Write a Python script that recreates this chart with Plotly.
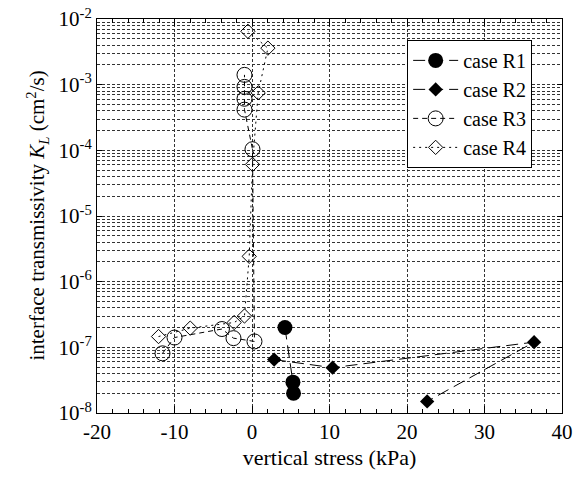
import plotly.graph_objects as go

# data
r1_x = [4.25, 5.28, 5.36]
r1_y = [2.0e-7, 2.95e-8, 2.0e-8]

r2_x = [2.86, 10.4, 36.4, 22.6]
r2_y = [6.5e-8, 4.9e-8, 1.2e-7, 1.5e-8]

r3_x = [-11.55, -10.0, -3.88, -2.39, 0.32, 0.06, -0.97, -0.97, -0.97, -0.97]
r3_y = [8.1e-8, 1.41e-7, 1.9e-7, 1.38e-7, 1.23e-7, 1.04e-4, 4.17e-4, 6.1e-4, 9.25e-4, 1.41e-3]

r4_x = [-12.06, -7.97, -2.3, -0.97, -0.36, 0.06, 0.8, 2.05, -0.53]
r4_y = [1.46e-7, 1.96e-7, 2.39e-7, 3.0e-7, 2.43e-6, 6.1e-5, 7.5e-4, 3.6e-3, 6.5e-3]

y_tickvals = [1e-8, 1e-7, 1e-6, 1e-5, 1e-4, 1e-3, 1e-2]
y_ticktext = ["10<sup>-8</sup>", "10<sup>-7</sup>", "10<sup>-6</sup>", "10<sup>-5</sup>",
              "10<sup>-4</sup>", "10<sup>-3</sup>", "10<sup>-2</sup>"]
x_tickvals = [-20, -10, 0, 10, 20, 30, 40]
x_ticktext = ["-20", "-10", "0", "10", "20", "30", "40"]

minor_vals = [m * 10.0 ** e for e in range(-8, -2) for m in range(2, 10)]

FONT = "Liberation Serif, Times New Roman, serif"

fig = go.Figure()
fig.add_trace(go.Scatter(x=r1_x, y=r1_y, name="case R1", mode="lines+markers",
                         line=dict(color="black", width=1, dash="12px,6px"),
                         marker=dict(symbol="circle", size=15, color="black")))
fig.add_trace(go.Scatter(x=r2_x, y=r2_y, name="case R2", mode="lines+markers",
                         line=dict(color="black", width=1, dash="12px,6px"),
                         marker=dict(symbol="diamond", size=11, color="black")))
fig.add_trace(go.Scatter(x=r3_x, y=r3_y, name="case R3", mode="lines+markers",
                         line=dict(color="black", width=1, dash="5px,4px"),
                         marker=dict(symbol="circle-open", size=15, color="black",
                                     line=dict(width=1, color="black"))))
fig.add_trace(go.Scatter(x=r4_x, y=r4_y, name="case R4", mode="lines+markers",
                         line=dict(color="black", width=1, dash="2px,4px"),
                         marker=dict(symbol="diamond-open", size=11, color="black",
                                     line=dict(width=1, color="black"))))

fig.update_layout(
    width=583, height=479,
    margin=dict(l=97, r=21, t=19, b=66, autoexpand=False),
    paper_bgcolor="white", plot_bgcolor="white",
    font=dict(family=FONT, size=20, color="black"),
    showlegend=True,
    legend=dict(x=0.667, y=0.947, xanchor="left", yanchor="top",
                bgcolor="white", bordercolor="black", borderwidth=1,
                font=dict(family=FONT, size=20), tracegroupgap=0, itemwidth=45),
    annotations=[dict(
        text="interface transmissivity <i>K</i><sub><i>L</i></sub> (cm<sup>2</sup>/s)",
        xref="paper", yref="paper", x=-0.13, y=0.5, xanchor="center", yanchor="middle",
        textangle=-90, showarrow=False, font=dict(family=FONT, size=21, color="black"))],
)
fig.update_xaxes(
    automargin=False,
    range=[-20, 40], tickmode="array", tickvals=x_tickvals, ticktext=x_ticktext,
    ticks="inside", ticklen=7, tickcolor="black", tickwidth=1,
    showline=True, linecolor="black", linewidth=1, mirror="allticks",
    showgrid=True, gridcolor="#333", gridwidth=1, griddash="3px,2px",
    zeroline=False,
    minor=dict(tickmode="array", tickvals=[v for v in range(-18, 40, 2) if v % 10 != 0],
               ticks="inside", ticklen=4, tickcolor="black", showgrid=False),
    title=dict(text="vertical stress (kPa)", font=dict(family=FONT, size=22), standoff=6),
    tickfont=dict(family=FONT, size=21),
)
fig.update_yaxes(
    automargin=False,
    type="log", range=[-8, -2], tickmode="array", tickvals=y_tickvals, ticktext=y_ticktext,
    ticks="inside", ticklen=5, tickcolor="black",
    showline=True, linecolor="black", linewidth=1, mirror="allticks",
    showgrid=True, gridcolor="#333", gridwidth=1, griddash="3px,2px",
    zeroline=False,
    minor=dict(tickmode="array", tickvals=minor_vals, ticks="", showgrid=True,
               gridcolor="#333", gridwidth=1, griddash="3px,2px"),
    tickfont=dict(family=FONT, size=21),
)

fig.write_html("out.html", config={"displayModeBar": False},
               post_script="document.body.style.margin='0px';")
